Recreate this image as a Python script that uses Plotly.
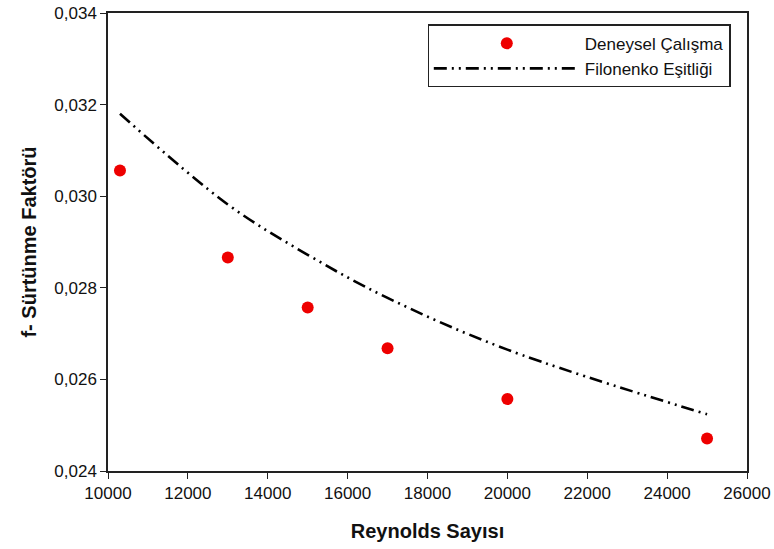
import plotly.graph_objects as go

# Experimental friction factor measurements
reynolds_exp = [10300, 13000, 15000, 17000, 20000, 25000]
friction_exp = [0.03056, 0.02866, 0.02757, 0.02668, 0.02557, 0.02471]

# Filonenko correlation values at the same Reynolds numbers
reynolds_fil = [10300, 13000, 15000, 17000, 20000, 25000]
friction_fil = [0.03180, 0.02982, 0.02872, 0.02778, 0.02665, 0.02524]

x_ticks = [10000, 12000, 14000, 16000, 18000, 20000, 22000, 24000, 26000]
y_ticks = [0.024, 0.026, 0.028, 0.030, 0.032, 0.034]

FONT = "Liberation Sans, Arial, sans-serif"

fig = go.Figure()
fig.add_trace(go.Scatter(
    x=reynolds_exp, y=friction_exp, mode="markers", name="Deneysel Çalışma",
    marker=dict(color="#ee0000", size=12, line=dict(width=0)),
))
fig.add_trace(go.Scatter(
    x=reynolds_fil, y=friction_fil, mode="lines", name="Filonenko Eşitliği",
    line=dict(color="black", width=2.6, shape="spline",
              dash="13px,5px,2px,5px,2px,5px"),
))

axis_common = dict(
    showgrid=False, zeroline=False, showline=True, linecolor="#222",
    linewidth=1.5, mirror=True, ticks="outside", ticklen=6,
    tickwidth=1.3, tickcolor="#222", automargin=False,
    tickfont=dict(family=FONT, size=17, color="#111"),
)

fig.update_layout(
    width=774, height=549,
    margin=dict(l=108, r=27, t=13, b=78),
    paper_bgcolor="white", plot_bgcolor="white",
    separators=",.",
    showlegend=True,
    legend=dict(
        x=0.5, y=0.975, xanchor="left", yanchor="top",
        bgcolor="white", bordercolor="#222", borderwidth=1.3,
        font=dict(family=FONT, size=17, color="#111"),
        itemwidth=146, tracegroupgap=0,
    ),
    xaxis=dict(
        axis_common, range=[10000, 26000], tickvals=x_ticks,
        tickformat="d",
        title=dict(text="<b>Reynolds Sayısı</b>", standoff=22,
                   font=dict(family=FONT, size=20, color="#111")),
    ),
    yaxis=dict(
        axis_common, range=[0.024, 0.034], tickvals=y_ticks,
        tickformat=".3f",
        title=dict(text="<b>f- Sürtünme Faktörü</b>", standoff=12,
                   font=dict(family=FONT, size=20, color="#111")),
    ),
)

fig.write_html("out.html")
